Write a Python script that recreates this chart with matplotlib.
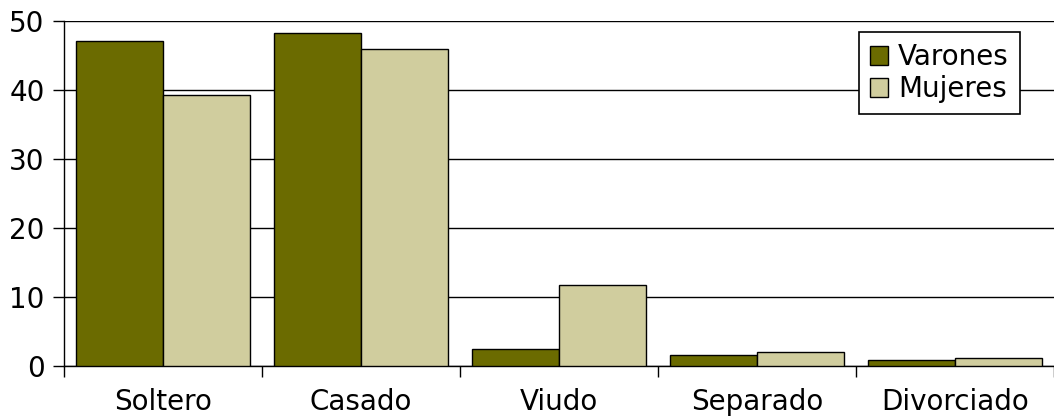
import numpy as np
import matplotlib.pyplot as plt
from matplotlib.patches import Patch

# datos
categorias = ["Soltero", "Casado", "Viudo", "Separado", "Divorciado"]
varones = [47.1, 48.3, 2.4, 1.6, 0.9]
mujeres = [39.3, 45.9, 11.8, 2.1, 1.1]
yticks = [0, 10, 20, 30, 40, 50]

col_v = "#6B6B00"
col_m = "#D0CD9E"

fig = plt.figure(figsize=(10.54, 4.17), dpi=100)
ax = fig.add_axes([0.0607, 0.1223, 0.9393, 0.8273])

x = np.arange(len(categorias))
w = 0.44
ax.bar(x - w / 2, varones, w, color=col_v, edgecolor="black", linewidth=1, zorder=3)
ax.bar(x + w / 2, mujeres, w, color=col_m, edgecolor="black", linewidth=1, zorder=3)

ax.set_xlim(-0.5, len(categorias) - 0.5)
ax.set_ylim(0, 50)
ax.set_yticks(yticks)
ax.yaxis.grid(True, color="black", linewidth=1, zorder=0)

# marcas del eje x entre categorias
ax.set_xticks(np.arange(-0.5, len(categorias), 1.0))
ax.set_xticklabels([])
ax.set_xticks(x, minor=True)
ax.set_xticklabels(categorias, minor=True)
ax.tick_params(axis="x", which="minor", length=0, labelsize=20, pad=16)
ax.tick_params(axis="x", which="major", length=8, width=1, direction="out")
ax.tick_params(axis="y", length=8, width=1, direction="out", labelsize=20, pad=6)

for s in ["top", "right"]:
    ax.spines[s].set_visible(False)
ax.spines["left"].set_linewidth(1)
ax.spines["bottom"].set_linewidth(1)

handles = [Patch(facecolor=col_v, edgecolor="black", label="Varones"),
           Patch(facecolor=col_m, edgecolor="black", label="Mujeres")]
leg = ax.legend(handles=handles, loc="upper right", bbox_to_anchor=(0.9657, 0.968),
                fontsize=20, frameon=True, fancybox=False, edgecolor="black",
                framealpha=1, handlelength=0.65, handleheight=0.65,
                handletextpad=0.35, borderpad=0.4, labelspacing=0.15,
                borderaxespad=0)
leg.get_frame().set_linewidth(1.2)

fig.savefig("out.png", dpi=100)
